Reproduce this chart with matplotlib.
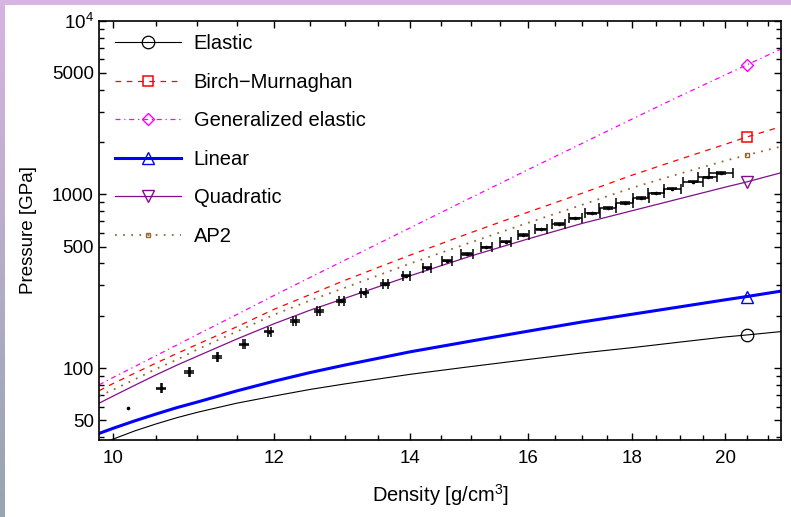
import numpy as np
import matplotlib
matplotlib.use('Agg')
import matplotlib.pyplot as plt
from matplotlib.ticker import FixedLocator, FixedFormatter, NullFormatter
from matplotlib.patches import Rectangle

plt.rcParams['font.family'] = ['Liberation Sans', 'DejaVu Sans']
plt.rcParams['mathtext.fontset'] = 'custom'
plt.rcParams['mathtext.rm'] = 'Liberation Sans'
plt.rcParams['mathtext.it'] = 'Liberation Sans:italic'

# model curves (density in g/cm^3, pressure in GPa)
rho_curve = [9.84, 10, 10.25, 10.5, 10.75, 11, 11.5, 12, 12.5, 13, 14, 15, 16, 17, 18, 19, 20, 20.5, 21.3]
p_elastic = [36.1, 39, 43.5, 47.7, 51.8, 55.6, 62.7, 69, 75.3, 81, 92, 102, 112, 122, 131, 141, 151, 155, 162]
p_birch = [74, 81.5, 93.6, 107, 121.4, 137, 172.6, 218, 265, 320, 447, 603, 790, 1013, 1290, 1593, 1941, 2140, 2450]
p_gen_elastic = [80, 88.3, 102.2, 118, 135.9, 156, 203, 262, 332.7, 418, 642, 958, 1388, 1960, 2715, 3681, 4870, 5570, 6855]
p_linear = [42, 45, 49.7, 54.4, 59.2, 63.7, 73.8, 84, 94.2, 104, 124, 143, 163, 184, 204, 225, 247, 258, 277]
p_quadratic = [62.7, 69, 79.7, 91.5, 104, 117, 146.7, 180, 215.5, 252, 340, 442, 554, 679, 805, 945, 1100, 1180, 1330]
p_ap2 = [69, 75, 86.2, 99, 111.8, 128, 162, 203, 245, 290, 400, 530, 686, 869, 1090, 1317, 1561, 1685, 1882]
marker_idx = [17]

# measured points
rho_data = [10.17, 10.56, 10.90, 11.25, 11.60, 11.93, 12.28, 12.62, 12.95, 13.28,
            13.61, 13.94, 14.27, 14.60, 14.93, 15.26, 15.60, 15.91, 16.24, 16.56,
            16.88, 17.21, 17.51, 17.85, 18.18, 18.49, 18.84, 19.28, 19.61, 19.90]
p_data = [58.6, 76.4, 94.8, 116, 136.8, 161.9, 186.6, 213, 243, 271.5,
          304.5, 340, 378, 415, 453, 495, 534, 583, 629, 675,
          728, 778, 834, 892, 952, 1014, 1078, 1183, 1254, 1327]
rho_err = [np.nan, 0.005, 0.006, 0.006, 0.013, 0.02, 0.024, 0.024, 0.03, 0.038,
           0.039, 0.052, 0.068, 0.083, 0.10, 0.092, 0.10, 0.10, 0.114, 0.13,
           0.13, 0.15, 0.165, 0.168, 0.16, 0.167, 0.175, 0.22, 0.21, 0.27]
p_err = [np.nan, 0.8, 1.0, 1.2, 1.4, 1.6, 1.9, 2.1, 2.4, 2.7,
         3.0, 3.4, 3.8, 4.2, 4.5, 5.0, 5.3, 5.8, 6.3, 6.8,
         7.3, 7.8, 8.3, 8.9, 9.5, 10, 11, 12, 12.5, 13]

fig = plt.figure(figsize=[7.91, 5.17], dpi=100)

# coloured frame
fig.patches.append(Rectangle((0, 1 - 4.5 / 517), 1, 4.5 / 517, transform=fig.transFigure,
                             facecolor='#d7b4e1', edgecolor='none', zorder=0))
band = fig.add_axes([0, 0, 5 / 791, 1])
top_c = np.array([215, 180, 226]) / 255
bot_c = np.array([150, 165, 175]) / 255
t = np.linspace(0, 1, 256)[:, None]
grad = (top_c[None, :] * (1 - t) + bot_c[None, :] * t)[:, None, :]
band.imshow(grad, aspect='auto', extent=[0, 1, 0, 1])
band.axis('off')

ax = fig.add_axes([99.5 / 791, 77 / 517, 681.2 / 791, 419.3 / 517])
ax.set_xscale('log')
ax.set_yscale('log')

ax.plot(rho_curve, p_elastic, color='black', lw=0.8, marker='o', ms=9, mfc='none',
        mew=0.9, markevery=marker_idx, label='Elastic')
ax.plot(rho_curve, p_birch, color='red', lw=0.9, ls=(0, (4.5, 4.5)), marker='s', ms=6.5,
        mfc='none', mew=1.1, markevery=marker_idx, label='Birch\u2212Murnaghan')
ax.plot(rho_curve, p_gen_elastic, color='#ff00ff', lw=0.9, ls=(0, (4, 3, 1, 3)), marker='D',
        ms=6.5, mfc='none', mew=1.0, markevery=marker_idx, label='Generalized elastic')
ax.plot(rho_curve, p_linear, color='blue', lw=2.2, marker='^', ms=8, mfc='none', mew=1.0,
        markevery=marker_idx, label='Linear')
ax.plot(rho_curve, p_quadratic, color='#80108a', lw=0.9, marker='v', ms=8, mfc='none',
        mew=1.0, markevery=marker_idx, label='Quadratic')
ax.plot(rho_curve, p_ap2, color='#996633', lw=1.3, ls=(0, (1, 3.5)), marker='s', ms=3,
        mfc='none', mew=1.0, markevery=marker_idx, label='AP2')

ax.errorbar(rho_data, p_data, xerr=rho_err, yerr=p_err, fmt='none', ecolor='black',
            elinewidth=1.1, capsize=3.8, capthick=1.1)
ax.plot(rho_data, p_data, ls='none', marker='o', ms=1.6, color='black')

ax.set_xlim(9.845, 21.3)
ax.set_ylim(38.5, 10000)

ax.xaxis.set_major_locator(FixedLocator([10, 12, 14, 16, 18, 20]))
ax.xaxis.set_major_formatter(FixedFormatter(['10', '12', '14', '16', '18', '20']))
ax.xaxis.set_minor_locator(FixedLocator([10.5, 11, 11.5, 12.5, 13, 13.5, 14.5, 15, 15.5,
                                         16.5, 17, 17.5, 18.5, 19, 19.5, 20.5, 21]))
ax.xaxis.set_minor_formatter(NullFormatter())

ymaj = [50, 100, 500, 1000, 5000, 10000]
ax.yaxis.set_major_locator(FixedLocator(ymaj))
ax.yaxis.set_major_formatter(FixedFormatter(['50', '100', '500', '1000', '5000', r'10$^{4}$']))
ymin = [m * 10 ** k for k in (1, 2, 3) for m in range(2, 10) if m * 10 ** k not in ymaj]
ax.yaxis.set_minor_locator(FixedLocator([v for v in ymin if 38 < v < 10000]))
ax.yaxis.set_minor_formatter(NullFormatter())

ax.tick_params(which='both', direction='in', top=True, right=True, width=1.0,
               labelsize=13.5, colors='black')
ax.tick_params(which='major', length=5)
ax.tick_params(which='minor', length=3.5)
ax.tick_params(axis='x', pad=7)
ax.tick_params(axis='y', pad=4)
for s in ax.spines.values():
    s.set_linewidth(1.2)

ax.set_xlabel('Density [g/cm$^{3}$]', fontsize=14.5)
ax.set_ylabel('Pressure [GPa]', fontsize=13.5)
ax.xaxis.set_label_coords(0.5, -0.1)
ax.yaxis.set_label_coords(-0.092, 0.5)

ax.legend(loc='upper left', bbox_to_anchor=(0.0228, 0.968), frameon=False, fontsize=14.5,
          handlelength=3.3, handletextpad=0.6, labelspacing=0.97, borderpad=0,
          borderaxespad=0, numpoints=1)

fig.savefig('out.png', dpi=100)
